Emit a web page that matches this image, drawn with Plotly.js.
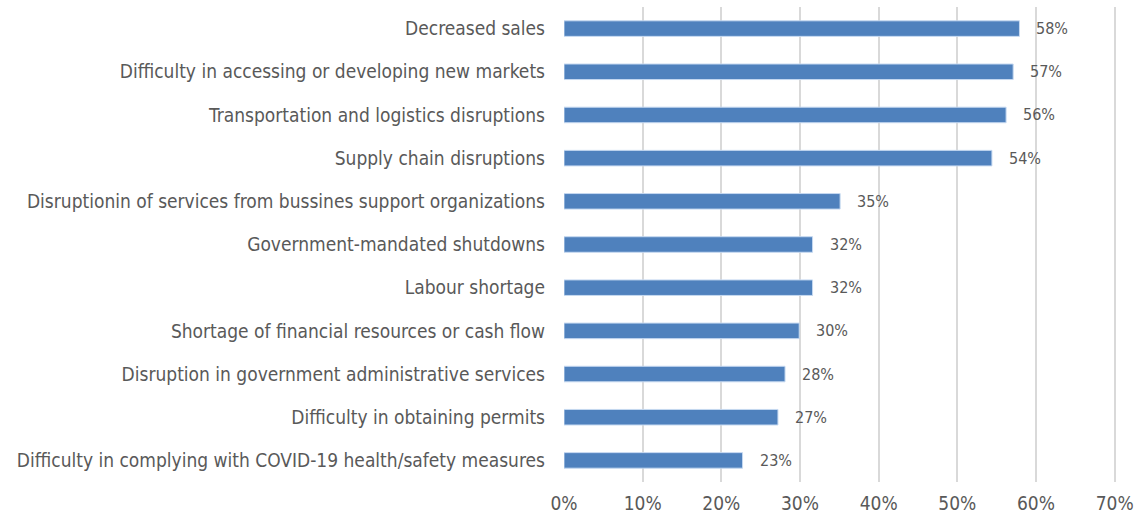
<!DOCTYPE html>
<html><head><meta charset="utf-8">
<script src="https://cdn.plot.ly/plotly-3.0.1.min.js"></script>
<style>body{margin:0;background:#fff}#c{width:1134px;height:518px}</style>
</head><body><div id="c"></div>
<script>
const categories = [
  "Decreased sales",
  "Difficulty in accessing or developing new markets",
  "Transportation and logistics disruptions",
  "Supply chain disruptions",
  "Disruptionin of services from bussines support organizations",
  "Government-mandated shutdowns",
  "Labour shortage",
  "Shortage of financial resources or cash flow",
  "Disruption in government administrative services",
  "Difficulty in obtaining permits",
  "Difficulty in complying with COVID-19 health/safety measures"
];
const values = [0.579, 0.571, 0.562, 0.544, 0.351, 0.316, 0.316, 0.299, 0.281, 0.272, 0.227];
const labels = ["58%", "57%", "56%", "54%", "35%", "32%", "32%", "30%", "28%", "27%", "23%"];
const tickVals = [0, 0.1, 0.2, 0.3, 0.4, 0.5, 0.6, 0.7];
const tickText = ["0%", "10%", "20%", "30%", "40%", "50%", "60%", "70%"];

const font = "DejaVu Sans Condensed, Liberation Sans Narrow, sans-serif";
const textColor = "#595959";

const annotations = categories.map((c, i) => ({
  x: values[i], y: c, xref: "x", yref: "y",
  text: labels[i], showarrow: false, xanchor: "left", xshift: 15,
  font: {family: font, size: 16, color: textColor}
}));

Plotly.newPlot("c", [{
  type: "bar", orientation: "h",
  x: values, y: categories,
  marker: {color: "#4f81bd", line: {color: "#c6d9f1", width: 1}},
  width: 0.36, hoverinfo: "none"
}], {
  width: 1134, height: 518,
  margin: {l: 564, r: 17, t: 7, b: 36},
  paper_bgcolor: "#fff", plot_bgcolor: "#fff",
  showlegend: false,
  xaxis: {
    range: [0, 0.703], tickvals: tickVals, ticktext: tickText,
    showgrid: true, gridcolor: "#d9d9d9", gridwidth: 2,
    zeroline: false, showline: false, ticks: "",
    tickfont: {family: font, size: 19, color: textColor}, ticklabelstandoff: 8
  },
  yaxis: {
    autorange: "reversed", ticks: "", showgrid: false, zeroline: false,
    showline: false, ticklabelstandoff: 18,
    tickfont: {family: font, size: 19, color: textColor}
  },
  annotations: annotations
}, {displayModeBar: false, staticPlot: true});
</script></body></html>
